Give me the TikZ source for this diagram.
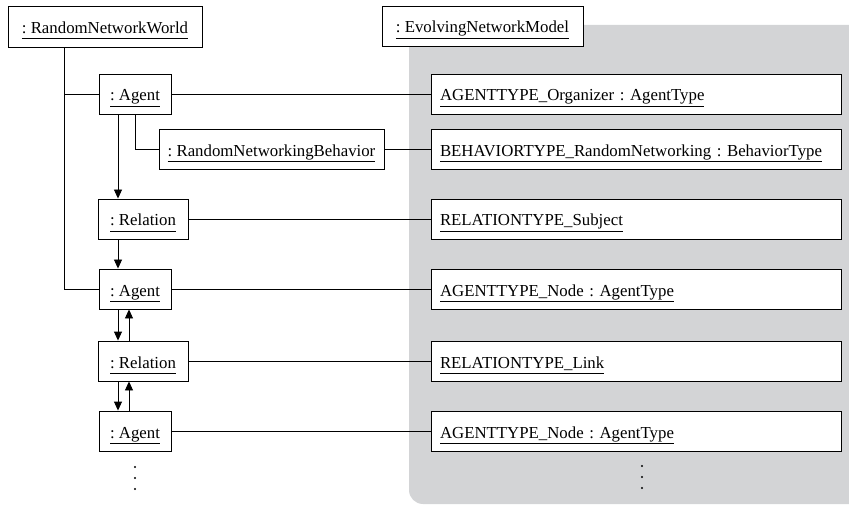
\documentclass[tikz,border=0pt]{standalone}
\usepackage{fontspec}
\setmainfont{Liberation Serif}
\usetikzlibrary{arrows.meta}
\definecolor{modelgray}{RGB}{211,212,214}
\newsavebox\ulbox
\newcommand\undl[1]{\sbox\ulbox{#1}\rlap{\rule[-5.5pt]{\wd\ulbox}{0.9pt}}\usebox\ulbox}
\tikzset{
  obj/.style={draw, line width=0.9pt, fill=white, minimum height=40pt,
    inner ysep=6pt, inner xsep=0pt, text height=21pt, text depth=7pt,
    font=\fontsize{16.8}{20}\selectfont\frenchspacing},
  typeobj/.style={obj, inner xsep=9pt, text width=392pt, align=left},
  link/.style={line width=0.9pt},
  flow/.style={line width=0.9pt, -{Triangle[width=8pt,length=9pt]}},
}
\begin{document}
\begin{tikzpicture}[x=1pt,y=1pt]
\useasboundingbox (0,0) rectangle (849,-505);
% shaded area of the model
\fill[modelgray] (849,-25) -- (409,-25) -- (409,-490)
  arc[start angle=180, end angle=270, radius=14pt] -- (849,-504) -- cycle;

% world side
\node[obj, minimum width=194pt, minimum height=41pt] (rnw) at (105,-26.5) {\undl{: RandomNetworkWorld}};
\node[obj, minimum width=72pt]  (a1)  at (135,-94)   {\undl{: Agent}};
\node[obj, minimum width=225pt, minimum height=39pt] (rnb) at (271.5,-149.5) {\undl{: RandomNetworkingBehavior}};
\node[obj, minimum width=90pt]  (r1)  at (143,-219)  {\undl{: Relation}};
\node[obj, minimum width=72pt]  (a2)  at (135,-289)  {\undl{: Agent}};
\node[obj, minimum width=90pt]  (r2)  at (143,-361)  {\undl{: Relation}};
\node[obj, minimum width=72pt]  (a3)  at (135,-431)  {\undl{: Agent}};

% model side
\node[obj, minimum width=201pt] (enm) at (482.5,-26) {\undl{: EvolvingNetworkModel}};
\node[typeobj] (t1) at (636,-94)    {\undl{AGENTTYPE\_Organizer : AgentType}};
\node[typeobj, minimum height=39pt] (t2) at (636,-149.5) {\undl{BEHAVIORTYPE\_RandomNetworking : BehaviorType}};
\node[typeobj] (t3) at (636,-219)   {\undl{RELATIONTYPE\_Subject}};
\node[typeobj] (t4) at (636,-289)   {\undl{AGENTTYPE\_Node : AgentType}};
\node[typeobj] (t5) at (636,-361)   {\undl{RELATIONTYPE\_Link}};
\node[typeobj] (t6) at (636,-431)   {\undl{AGENTTYPE\_Node : AgentType}};

% guide columns
\coordinate (tk) at (64,0);
\coordinate (dn) at (118,0);
\coordinate (up) at (129,0);

% containment
\draw[link] (rnw.south -| tk) |- (a2.west);
\draw[link] (a1.west -| tk) -- (a1.west);
\draw[link] (a1.south) |- (rnb.west);

% instance-of links
\draw[link] (a1) -- (t1);
\draw[link] (rnb) -- (t2);
\draw[link] (r1) -- (t3);
\draw[link] (a2) -- (t4);
\draw[link] (r2) -- (t5);
\draw[link] (a3) -- (t6);

% chain of agents and relations
\draw[flow] (a1.south -| dn) -- (r1.north -| dn);
\draw[flow] (r1.south -| dn) -- (a2.north -| dn);
\draw[flow] (a2.south -| dn) -- (r2.north -| dn);
\draw[flow] (r2.north -| up) -- (a2.south -| up);
\draw[flow] (r2.south -| dn) -- (a3.north -| dn);
\draw[flow] (a3.north -| up) -- (r2.south -| up);

% continuation dots
\foreach \y in {-467,-478,-489} \fill (135,\y) circle (1.1pt);
\foreach \y in {-466,-477,-488} \fill (642,\y) circle (1.1pt);
\end{tikzpicture}
\end{document}
